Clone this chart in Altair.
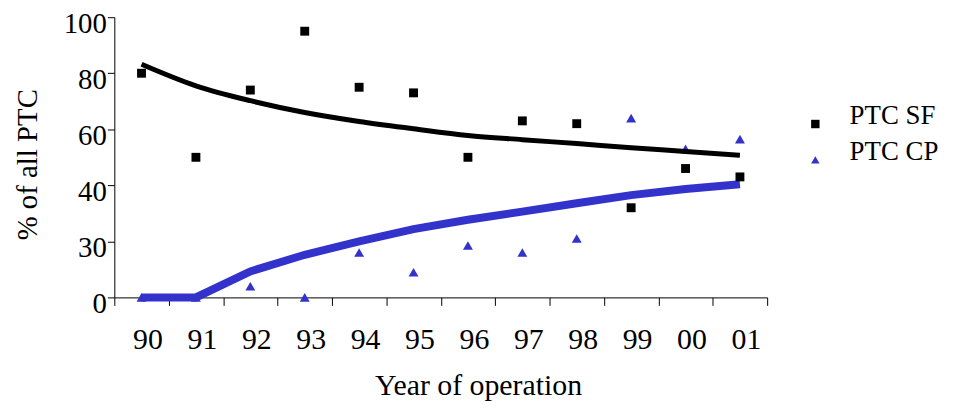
import altair as alt
import pandas as pd

years = ["90", "91", "92", "93", "94", "95", "96", "97", "98", "99", "00", "01"]
sf_points = [80, 50, 74, 95, 75, 73, 50, 63, 62, 32, 46, 43]
cp_points = [0, 0, 4, 0, 16, 9, 18.5, 16, 21, 64, 53, 56.5]
sf_trend = [83.2, 75.5, 70.2, 66.0, 62.8, 60.2, 57.8, 56.3, 54.9, 53.4, 52.1, 50.7]
cp_trend = [0, 0, 9.3, 15.2, 20.0, 24.4, 27.7, 30.6, 33.6, 36.5, 38.7, 40.4]
y_ticks = [0, 20, 40, 60, 80, 100]
y_tick_labels = ["0", "30", "40", "60", "80", "100"]
series = ["PTC SF", "PTC CP"]
colors = ["#000000", "#3333CC"]
shapes = ["square", "triangle-up"]

FONT = "Liberation Serif"

rows = []
for i, y in enumerate(years):
    rows.append({"year": y, "idx": i, "series": "PTC SF", "value": sf_points[i],
                 "trend": sf_trend[i]})
    rows.append({"year": y, "idx": i, "series": "PTC CP", "value": cp_points[i],
                 "trend": cp_trend[i]})
df = pd.DataFrame(rows)

label_expr = "".join(
    f"datum.value == {v} ? '{l}' : " for v, l in zip(y_ticks, y_tick_labels)
) + "datum.label"

x_enc = alt.X(
    "year:N",
    sort=years,
    scale=alt.Scale(type="band", domain=years, paddingInner=0, paddingOuter=0),
    axis=alt.Axis(
        title="Year of operation",
        labelAngle=0,
        tickBand="extent",
        tickSize=8,
        labelPadding=19,
        labelFontSize=30,
        labelOffset=6,
        titleFontSize=30,
        titleX=366,
        titleY=98,
        titleBaseline="alphabetic",
        titleAlign="center",
    ),
)
y_enc = alt.Y(
    "value:Q",
    scale=alt.Scale(domain=[0, 100], nice=False, zero=True),
    axis=alt.Axis(
        title="% of all PTC",
        values=y_ticks,
        labelExpr=label_expr,
        tickSize=7,
        labelPadding=1,
        labelFontSize=29,
        labelBaseline="middle",
        labelOffset=6,
        titleFontSize=29,
        titleAngle=-90,
        titleX=-78,
        titleY=148,
        titleBaseline="alphabetic",
        titleAlign="center",
    ),
)

color_enc = alt.Color(
    "series:N",
    scale=alt.Scale(domain=series, range=colors),
    legend=alt.Legend(
        title=None,
        orient="none",
        legendX=692,
        legendY=94,
        labelFontSize=27,
        labelOffset=21,
        rowPadding=8,
        symbolSize=72,
        labelBaseline="alphabetic",
    ),
)
shape_enc = alt.Shape("series:N", scale=alt.Scale(domain=series, range=shapes))

base = alt.Chart(df)

tri = base.transform_filter(alt.datum.series == "PTC CP").mark_point(
    filled=True, size=100, opacity=1
).encode(x=x_enc, y=y_enc, color=color_enc, shape=shape_enc)

sq = base.transform_filter(alt.datum.series == "PTC SF").mark_point(
    filled=True, size=80, opacity=1
).encode(x=x_enc, y=y_enc, color=color_enc, shape=shape_enc)

sf_line = base.transform_filter(alt.datum.series == "PTC SF").mark_line(
    strokeWidth=5, color="#000000", interpolate="monotone"
).encode(x=x_enc, y=alt.Y("trend:Q", scale=alt.Scale(domain=[0, 100], nice=False)),
         order=alt.Order("idx:Q"))

cp_line = base.transform_filter(alt.datum.series == "PTC CP").mark_line(
    strokeWidth=8, color="#3333CC"
).encode(x=x_enc, y=alt.Y("trend:Q", scale=alt.Scale(domain=[0, 100], nice=False)),
         order=alt.Order("idx:Q"))

chart = alt.layer(tri, sf_line, cp_line, sq).properties(
    width=657,
    height=282,
    autosize=alt.AutoSizeParams(type="none"),
    padding={"left": 107, "top": 8, "right": 180, "bottom": 103},
).configure_view(stroke=None).configure_axis(
    labelFont=FONT,
    titleFont=FONT,
    labelColor="#000000",
    titleColor="#000000",
    domainColor="#000000",
    tickColor="#000000",
    titleFontWeight="normal",
    grid=False,
).configure_legend(
    labelFont=FONT,
    labelColor="#000000",
    padding=0,
)

chart.save("out.html", embed_options={"renderer": "svg", "actions": False})
